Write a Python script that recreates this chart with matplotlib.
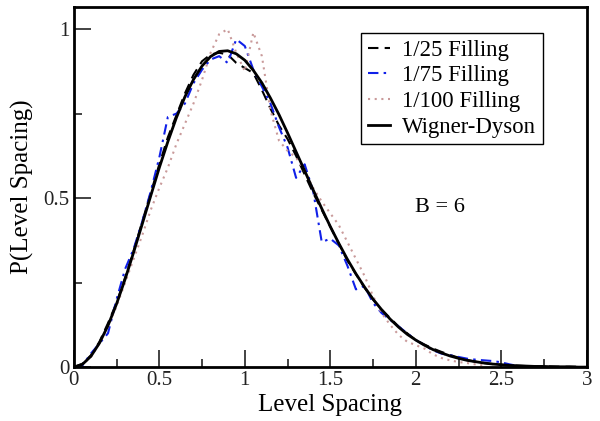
import matplotlib
matplotlib.use("Agg")
from matplotlib import pyplot as plt
from matplotlib.ticker import MultipleLocator

# level spacing grid (bin centres)
spacing = [round(0.05 * i, 2) for i in range(61)]

# Wigner-Dyson curve
wigner_dyson = [0, 0.008, 0.032, 0.071, 0.123, 0.187, 0.260, 0.340, 0.423, 0.507,
                0.590, 0.667, 0.738, 0.800, 0.851, 0.891, 0.919, 0.934, 0.936, 0.927,
                0.908, 0.878, 0.841, 0.796, 0.747, 0.693, 0.637, 0.581, 0.524, 0.469,
                0.416, 0.366, 0.319, 0.276, 0.237, 0.201, 0.170, 0.142, 0.118, 0.097,
                0.080, 0.065, 0.052, 0.042, 0.033, 0.026, 0.020, 0.016, 0.012, 0.009,
                0.007, 0.005, 0.004, 0.003, 0.002, 0.002, 0.001, 0.001, 0.001, 0.0, 0.0]

# 1/25 filling (dashed black)
fill_25 = [0, 0.01, 0.035, 0.075, 0.13, 0.19, 0.265, 0.345, 0.43, 0.515,
           0.60, 0.68, 0.745, 0.81, 0.865, 0.905, 0.925, 0.93, 0.925, 0.90,
           0.885, 0.87, 0.82, 0.765, 0.715, 0.675, 0.625, 0.57, 0.515, 0.465,
           0.415, 0.365, 0.315, 0.275, 0.235, 0.20, 0.17, 0.145, 0.12, 0.10,
           0.08, 0.067, 0.055, 0.045, 0.036, 0.028, 0.021, 0.016, 0.012, 0.009,
           0.007, 0.005, 0.004, 0.003, 0.003, 0.002, 0.002, 0.001, 0.001, 0.001]

# 1/75 filling (blue dash-dot)
fill_75 = [0, 0.005, 0.04, 0.07, 0.10, 0.20, 0.29, 0.35, 0.43, 0.52,
           0.62, 0.74, 0.75, 0.78, 0.84, 0.88, 0.91, 0.92, 0.90, 0.97,
           0.95, 0.88, 0.83, 0.78, 0.71, 0.65, 0.56, 0.60, 0.52, 0.37,
           0.38, 0.36, 0.30, 0.23, 0.24, 0.19, 0.16, 0.14, 0.12, 0.10,
           0.08, 0.065, 0.05, 0.04, 0.035, 0.03, 0.025, 0.022, 0.02, 0.018,
           0.014, 0.008, 0.003]

# 1/100 filling (pink dotted)
fill_100 = [0, 0.008, 0.03, 0.07, 0.12, 0.18, 0.25, 0.32, 0.39, 0.465,
            0.53, 0.59, 0.66, 0.72, 0.78, 0.85, 0.93, 0.985, 1.0, 0.93,
            0.875, 0.99, 0.92, 0.76, 0.67, 0.64, 0.62, 0.58, 0.53, 0.49,
            0.455, 0.42, 0.37, 0.32, 0.27, 0.21, 0.16, 0.125, 0.095, 0.075,
            0.065, 0.055, 0.038, 0.027, 0.02, 0.015, 0.012, 0.008, 0.005]


def main():
    plt.rcParams['font.family'] = ['Liberation Serif', 'DejaVu Serif']
    fig = plt.figure(figsize=(6, 4.21), dpi=100)
    ax = fig.add_axes([0.123, 0.128, 0.855, 0.855])

    ax.plot(spacing[:len(fill_25)], fill_25, color='black', ls=(0, (5, 3)), lw=1.5,
            label='1/25 Filling')
    ax.plot(spacing[:len(fill_75)], fill_75, color='#1020e8', ls=(0, (5, 2.5, 1.2, 2.5)),
            lw=1.5, label='1/75 Filling')
    ax.plot(spacing[:len(fill_100)], fill_100, color='#c99a9a', ls=(0, (1, 2.2)), lw=1.5,
            label='1/100 Filling')
    ax.plot(spacing, wigner_dyson, color='black', lw=2, label='Wigner-Dyson')

    ax.set_xlim(0, 3)
    ax.set_ylim(0, 1.065)
    ax.xaxis.set_major_locator(MultipleLocator(0.5))
    ax.xaxis.set_minor_locator(MultipleLocator(0.25))
    ax.yaxis.set_major_locator(MultipleLocator(0.5))
    ax.yaxis.set_minor_locator(MultipleLocator(0.25))
    ax.xaxis.set_major_formatter(plt.FuncFormatter(lambda v, p: '%g' % v))
    ax.yaxis.set_major_formatter(plt.FuncFormatter(lambda v, p: '%g' % v))
    ax.tick_params(which='both', direction='in', top=False, right=False,
                   labelsize=15, width=1.2, pad=3, colors='#222222')
    ax.tick_params(which='major', length=12)
    ax.tick_params(which='minor', length=6)
    for s in ax.spines.values():
        s.set_linewidth(2)

    ax.set_xlabel('Level Spacing', fontsize=18, labelpad=3)
    ax.set_ylabel('P(Level Spacing)', fontsize=18, labelpad=7)

    leg = ax.legend(loc='upper right', bbox_to_anchor=(0.914, 0.928), fontsize=16.4,
                    handlelength=1.0, handletextpad=0.5, labelspacing=0.2,
                    borderpad=0.3, borderaxespad=0, fancybox=False, framealpha=1,
                    edgecolor='black')
    leg.get_frame().set_linewidth(1)

    ax.text(0.713, 0.444, 'B = 6', transform=ax.transAxes, fontsize=16,
            ha='center', va='center')

    fig.savefig('out.png', dpi=100)


if __name__ == "__main__":
    main()
